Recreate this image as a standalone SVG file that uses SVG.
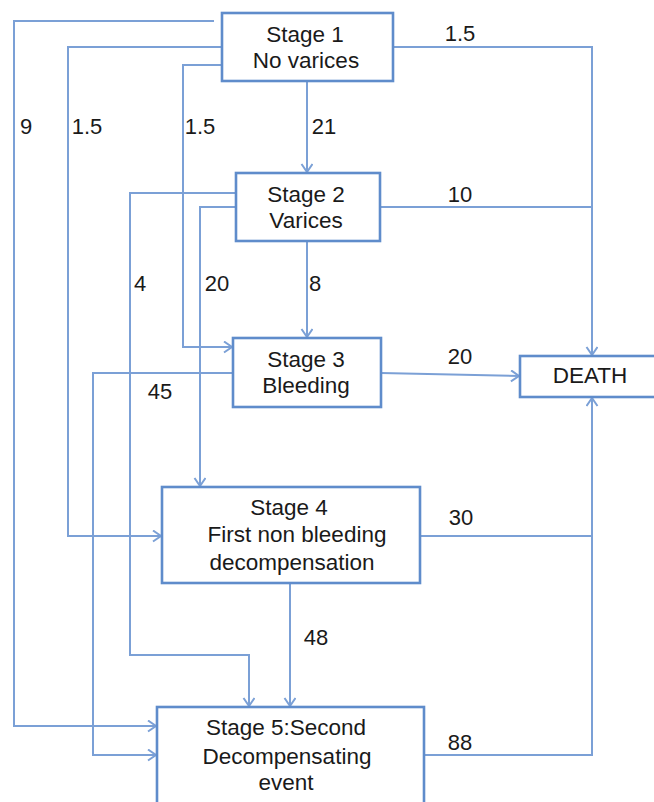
<svg xmlns="http://www.w3.org/2000/svg" width="654" height="802" viewBox="0 0 654 802">
<defs>
<style>
.box{fill:#fff;stroke:#5f8ccb;stroke-width:2.6}
.ln{fill:none;stroke:#7ba0d6;stroke-width:2}
.t{font-family:"Liberation Sans",Arial,sans-serif;font-size:22.5px;fill:#1a1a1a;text-anchor:middle}
.lb{font-family:"Liberation Sans",Arial,sans-serif;font-size:22px;fill:#1a1a1a;text-anchor:middle}
</style>
<marker id="arr" markerUnits="userSpaceOnUse" markerWidth="12" markerHeight="14" refX="9" refY="6" orient="auto">
<path d="M1,0.5 L9,6 L1,11.5" fill="none" stroke="#7ba0d6" stroke-width="2"/>
</marker>
</defs>
<rect width="654" height="802" fill="#fff"/>
<g id="connectors">
<path class="ln" d="M393,47 H592 V355" marker-end="url(#arr)"/>
<path class="ln" d="M380,207 H592"/>
<path class="ln" d="M307,81 V172" marker-end="url(#arr)"/>
<path class="ln" d="M214,21 H14 V726 H156" marker-end="url(#arr)"/>
<path class="ln" d="M222,47 H68 V536 H161" marker-end="url(#arr)"/>
<path class="ln" d="M222,65 H183 V347 H232" marker-end="url(#arr)"/>
<path class="ln" d="M236,193 H130 V655 H249 V706" marker-end="url(#arr)"/>
<path class="ln" d="M236,207 H200 V486" marker-end="url(#arr)"/>
<path class="ln" d="M307,241 V337" marker-end="url(#arr)"/>
<path class="ln" d="M381,373 L519,376" marker-end="url(#arr)"/>
<path class="ln" d="M233,373 H93 V755 H156" marker-end="url(#arr)"/>
<path class="ln" d="M420,536 H592"/>
<path class="ln" d="M290,583 V706" marker-end="url(#arr)"/>
<path class="ln" d="M424,755 H592 V398" marker-end="url(#arr)"/>
</g>
<g id="labels">
<text class="lb" x="460" y="41">1.5</text>
<text class="lb" x="460" y="202">10</text>
<text class="lb" x="460" y="364">20</text>
<text class="lb" x="26" y="134">9</text>
<text class="lb" x="87" y="134">1.5</text>
<text class="lb" x="200" y="134">1.5</text>
<text class="lb" x="324" y="134">21</text>
<text class="lb" x="140" y="291">4</text>
<text class="lb" x="217" y="291">20</text>
<text class="lb" x="315" y="291">8</text>
<text class="lb" x="160" y="399">45</text>
<text class="lb" x="461" y="525">30</text>
<text class="lb" x="316" y="645">48</text>
<text class="lb" x="460" y="750">88</text>
</g>
<g id="stage1">
<rect class="box" x="222" y="13" width="171" height="68"/>
<text class="t" x="305" y="42">Stage 1</text>
<text class="t" x="306" y="68">No varices</text>
</g>
<g id="stage2">
<rect class="box" x="236" y="173" width="144" height="68"/>
<text class="t" x="306" y="202">Stage 2</text>
<text class="t" x="306" y="228">Varices</text>
</g>
<g id="stage3">
<rect class="box" x="233" y="338" width="148" height="69"/>
<text class="t" x="306" y="367">Stage 3</text>
<text class="t" x="306" y="393">Bleeding</text>
</g>
<g id="death">
<rect class="box" x="520" y="356" width="140" height="41"/>
<text class="t" x="590" y="383">DEATH</text>
</g>
<g id="stage4">
<rect class="box" x="162" y="487" width="258" height="96"/>
<text class="t" x="289" y="515">Stage 4</text>
<text class="t" x="297" y="542">First non bleeding</text>
<text class="t" x="292" y="570">decompensation</text>
</g>
<g id="stage5">
<rect class="box" x="157" y="707" width="267" height="100"/>
<text class="t" x="286" y="735">Stage 5:Second</text>
<text class="t" x="287" y="764">Decompensating</text>
<text class="t" x="286" y="790">event</text>
</g>
</svg>
